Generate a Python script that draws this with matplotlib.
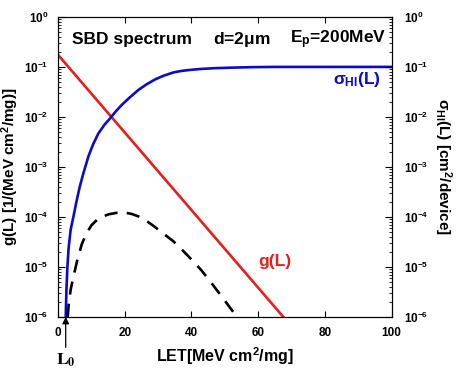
import matplotlib
matplotlib.use("Agg")
import matplotlib.pyplot as plt
from matplotlib.ticker import LogLocator, NullFormatter

plt.rcParams["font.family"] = ["Liberation Sans", "DejaVu Sans"]
plt.rcParams["font.weight"] = "bold"
plt.rcParams["axes.labelweight"] = "bold"
plt.rcParams["mathtext.fontset"] = "custom"
plt.rcParams["mathtext.rm"] = "Liberation Sans:bold"
plt.rcParams["mathtext.it"] = "Liberation Sans:bold"
plt.rcParams["mathtext.bf"] = "Liberation Sans:bold"

# g(L): straight line in log space
g_let = [0.0, 67.5]
g_val = [0.174, 1e-6]

# sigma_HI(L) (log10 values)
sig_let = [2.3, 2.5, 2.8, 3.2, 3.8, 4.6, 5.5, 6.5, 7.5, 9.1, 10.5, 12.1, 14.0, 15.6,
           17.3, 19.1, 21.5, 24.1, 26.5, 29.1, 31.5, 34.6, 37.0, 39.6, 43.0, 47.0,
           52.0, 58.0, 65.0, 100.0]
sig_log = [-6.0, -5.5, -5.0, -4.6, -4.25, -4.0, -3.7, -3.4, -3.15, -2.79, -2.55, -2.33,
           -2.15, -2.03, -1.89, -1.76, -1.61, -1.46, -1.35, -1.25, -1.18, -1.11, -1.08,
           -1.06, -1.04, -1.025, -1.015, -1.005, -1.0, -1.0]
sig_val = [10 ** v for v in sig_log]

# dashed product curve (log10 values)
prod_let = [2.9, 3.2, 3.8, 4.6, 5.9, 7.1, 8.5, 10.0, 12.1, 15.1, 17.5, 19.6, 22.0,
            24.1, 26.5, 28.6, 31.5, 34.6, 37.5, 40.1, 43.0, 45.6, 48.0, 50.6, 53.6]
prod_log = [-6.0, -5.75, -5.45, -5.2, -4.83, -4.55, -4.33, -4.17, -4.03, -3.95, -3.92,
            -3.91, -3.94, -3.99, -4.08, -4.18, -4.33, -4.49, -4.68, -4.86, -5.07, -5.29,
            -5.5, -5.73, -6.0]
prod_val = [10 ** v for v in prod_log]

y_ticks = [1e-6, 1e-5, 1e-4, 1e-3, 1e-2, 1e-1, 1e0]
x_ticks = [0, 20, 40, 60, 80, 100]

fig = plt.figure(figsize=(4.57, 3.68), dpi=100)
ax = fig.add_axes([0.127, 0.139, 0.73, 0.815])

ax.plot(g_let, g_val, color="#e61e1e", lw=1.9)
ax.plot(sig_let, sig_val, color="#0a0ac8", lw=1.9)
ax.plot(prod_let, prod_val, color="black", lw=1.9, dashes=(5, 3.5))

ax.set_yscale("log")
ax.set_xlim(0, 100)
ax.set_ylim(1e-6, 1e0)
ax.set_xticks(x_ticks)
ax.set_yticks(y_ticks)
ax.yaxis.set_minor_locator(LogLocator(base=10, subs=range(2, 10), numticks=10))
ax.yaxis.set_minor_formatter(NullFormatter())
ax.tick_params(which="both", direction="in", top=True, labelsize=8.5)
ax.tick_params(axis="y", which="major", length=5, right=False, pad=7)
ax.tick_params(axis="y", which="minor", length=2.5)
ax.tick_params(axis="x", length=4, pad=7)

ax2 = ax.twinx()
ax2.set_yscale("log")
ax2.set_ylim(1e-6, 1e0)
ax2.set_yticks(y_ticks)
ax2.yaxis.set_minor_locator(LogLocator(base=10, subs=range(2, 10), numticks=10))
ax2.yaxis.set_minor_formatter(NullFormatter())
ax2.tick_params(which="both", direction="in", labelsize=8.5)
ax2.tick_params(which="major", length=5, pad=9)
ax2.tick_params(which="minor", length=2.5)

ax.set_xlabel("LET[MeV cm$^2$/mg]", fontsize=11.5, labelpad=5)
ax.set_ylabel("g(L) [1/(MeV cm$^2$/mg)]", fontsize=11, labelpad=2)
ax2.set_ylabel(r"$\sigma_{HI}$(L) [cm$^2$/device]", fontsize=11, rotation=270, labelpad=18)

ax.text(4.2, 0.35, "SBD spectrum", fontsize=12.5, va="center")
ax.text(46.5, 0.35, r"d=2$\mu$m", fontsize=12.5, va="center")
ax.text(69.5, 0.35, r"E$_{\rm p}$=200MeV", fontsize=12.5, va="center")
ax.text(82.5, 0.055, r"$\sigma_{HI}$(L)", fontsize=12.5, color="#0a0ac8", va="center")
ax.text(60, 1.3e-5, "g(L)", fontsize=12.5, color="#e61e1e", va="center")

ax.annotate(r"$\mathrm{L_0}$", xy=(2.3, 1e-6), xytext=(0, -25),
            textcoords="offset points", ha="center", va="top",
            fontsize=12.5, math_fontfamily="stix", annotation_clip=False,
            arrowprops=dict(arrowstyle="-|>", color="black", lw=0.9,
                            mutation_scale=10, shrinkA=1, shrinkB=0))

fig.savefig("out.png", dpi=100)
